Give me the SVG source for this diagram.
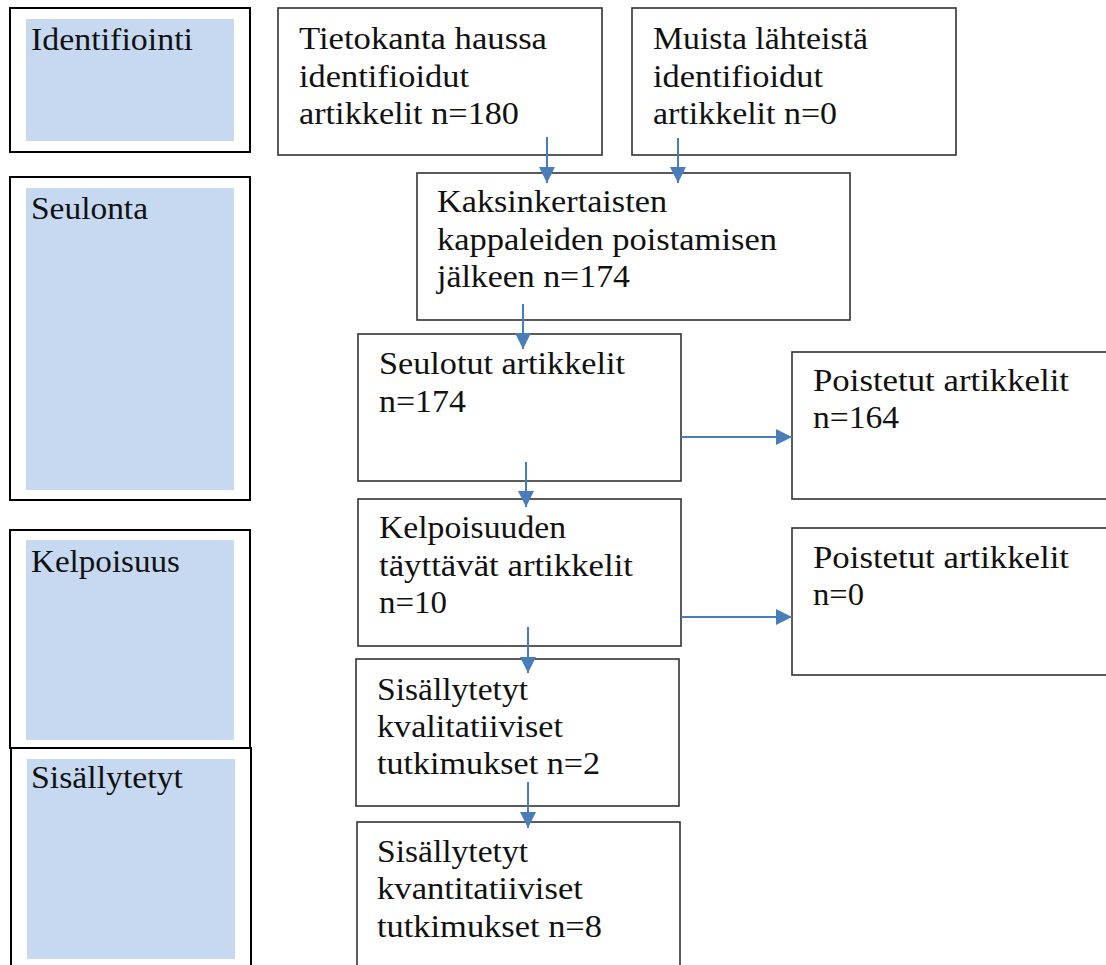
<svg xmlns="http://www.w3.org/2000/svg" width="1106" height="965" viewBox="0 0 1106 965">
  <style>
    .stage { fill: #ffffff; stroke: #000000; stroke-width: 2; }
    .band { fill: #c6d9f1; stroke: none; }
    .box { fill: #ffffff; stroke: #333333; stroke-width: 1.6; }
    .lbl { font-family: "Liberation Serif", "DejaVu Serif", serif; font-size: 31px; fill: #111111; }
    .flow { stroke: #4a7ebb; stroke-width: 2; fill: none; marker-end: url(#head); }
  </style>
  <defs>
    <marker id="head" markerUnits="userSpaceOnUse" markerWidth="16" markerHeight="16" refX="16" refY="8" orient="auto">
      <path d="M0,0 L16,8 L0,16 z" fill="#4a7ebb"/>
    </marker>
  </defs>

  <rect width="1106" height="965" fill="#ffffff"/>

  <!-- phase column -->
  <g id="phase-identifiointi">
    <rect class="stage" x="10" y="8" width="240" height="144"/>
    <rect class="band" x="26" y="19" width="208" height="122"/>
    <text class="lbl" x="31" y="50" textLength="162" lengthAdjust="spacingAndGlyphs">Identifiointi</text>
  </g>
  <g id="phase-seulonta">
    <rect class="stage" x="10" y="177" width="240" height="323"/>
    <rect class="band" x="26" y="188" width="208" height="302"/>
    <text class="lbl" x="31" y="219" textLength="117" lengthAdjust="spacingAndGlyphs">Seulonta</text>
  </g>
  <g id="phase-kelpoisuus">
    <rect class="stage" x="10" y="530" width="240" height="218"/>
    <rect class="band" x="26" y="540" width="208" height="200"/>
    <text class="lbl" x="31" y="572" textLength="149" lengthAdjust="spacingAndGlyphs">Kelpoisuus</text>
  </g>
  <g id="phase-sisallytetyt">
    <rect class="stage" x="11" y="748" width="240" height="230"/>
    <rect class="band" x="27" y="759" width="208" height="200"/>
    <text class="lbl" x="31" y="788" textLength="152" lengthAdjust="spacingAndGlyphs">Sisällytetyt</text>
  </g>

  <!-- flow boxes -->
  <g id="tietokanta">
    <rect class="box" x="278" y="8" width="324" height="147"/>
    <text class="lbl" x="299" y="49" textLength="248" lengthAdjust="spacingAndGlyphs">Tietokanta haussa</text>
    <text class="lbl" x="299" y="87" textLength="170" lengthAdjust="spacingAndGlyphs">identifioidut</text>
    <text class="lbl" x="299" y="124" textLength="220" lengthAdjust="spacingAndGlyphs">artikkelit n=180</text>
  </g>
  <g id="muista">
    <rect class="box" x="632" y="8" width="324" height="147"/>
    <text class="lbl" x="653" y="49" textLength="215" lengthAdjust="spacingAndGlyphs">Muista lähteistä</text>
    <text class="lbl" x="653" y="87" textLength="170" lengthAdjust="spacingAndGlyphs">identifioidut</text>
    <text class="lbl" x="653" y="124" textLength="184" lengthAdjust="spacingAndGlyphs">artikkelit n=0</text>
  </g>
  <g id="kaksinkertaisten">
    <rect class="box" x="417" y="173" width="433" height="147"/>
    <text class="lbl" x="437" y="212" textLength="230" lengthAdjust="spacingAndGlyphs">Kaksinkertaisten</text>
    <text class="lbl" x="437" y="250" textLength="340" lengthAdjust="spacingAndGlyphs">kappaleiden poistamisen</text>
    <text class="lbl" x="437" y="287" textLength="193" lengthAdjust="spacingAndGlyphs">jälkeen n=174</text>
  </g>
  <g id="seulotut">
    <rect class="box" x="358" y="334" width="323" height="147"/>
    <text class="lbl" x="379" y="374" textLength="246" lengthAdjust="spacingAndGlyphs">Seulotut artikkelit</text>
    <text class="lbl" x="379" y="412" textLength="87" lengthAdjust="spacingAndGlyphs">n=174</text>
  </g>
  <g id="poistetut-1">
    <rect class="box" x="792" y="352" width="330" height="147"/>
    <text class="lbl" x="813" y="391" textLength="256" lengthAdjust="spacingAndGlyphs">Poistetut artikkelit</text>
    <text class="lbl" x="813" y="428" textLength="86" lengthAdjust="spacingAndGlyphs">n=164</text>
  </g>
  <g id="kelpoisuuden">
    <rect class="box" x="358" y="499" width="323" height="147"/>
    <text class="lbl" x="379" y="538" textLength="187" lengthAdjust="spacingAndGlyphs">Kelpoisuuden</text>
    <text class="lbl" x="379" y="576" textLength="254" lengthAdjust="spacingAndGlyphs">täyttävät artikkelit</text>
    <text class="lbl" x="379" y="613" textLength="68" lengthAdjust="spacingAndGlyphs">n=10</text>
  </g>
  <g id="poistetut-2">
    <rect class="box" x="792" y="528" width="330" height="147"/>
    <text class="lbl" x="813" y="568" textLength="256" lengthAdjust="spacingAndGlyphs">Poistetut artikkelit</text>
    <text class="lbl" x="813" y="605" textLength="51" lengthAdjust="spacingAndGlyphs">n=0</text>
  </g>
  <g id="kvalitatiiviset">
    <rect class="box" x="356" y="659" width="323" height="147"/>
    <text class="lbl" x="377" y="700" textLength="151" lengthAdjust="spacingAndGlyphs">Sisällytetyt</text>
    <text class="lbl" x="377" y="737" textLength="186" lengthAdjust="spacingAndGlyphs">kvalitatiiviset</text>
    <text class="lbl" x="377" y="774" textLength="223" lengthAdjust="spacingAndGlyphs">tutkimukset n=2</text>
  </g>
  <g id="kvantitatiiviset">
    <rect class="box" x="357" y="822" width="323" height="160"/>
    <text class="lbl" x="377" y="862" textLength="151" lengthAdjust="spacingAndGlyphs">Sisällytetyt</text>
    <text class="lbl" x="377" y="899" textLength="206" lengthAdjust="spacingAndGlyphs">kvantitatiiviset</text>
    <text class="lbl" x="377" y="937" textLength="225" lengthAdjust="spacingAndGlyphs">tutkimukset n=8</text>
  </g>

  <!-- connectors -->
  <g id="connectors">
    <line class="flow" x1="547" y1="137" x2="547" y2="183"/>
    <line class="flow" x1="678" y1="138" x2="678" y2="183"/>
    <line class="flow" x1="523" y1="304" x2="523" y2="349"/>
    <line class="flow" x1="526" y1="462" x2="526" y2="507"/>
    <line class="flow" x1="681" y1="437" x2="792" y2="437"/>
    <line class="flow" x1="681" y1="617" x2="792" y2="617"/>
    <line class="flow" x1="528" y1="627" x2="528" y2="673"/>
    <line class="flow" x1="528" y1="782" x2="528" y2="828"/>
  </g>
</svg>
